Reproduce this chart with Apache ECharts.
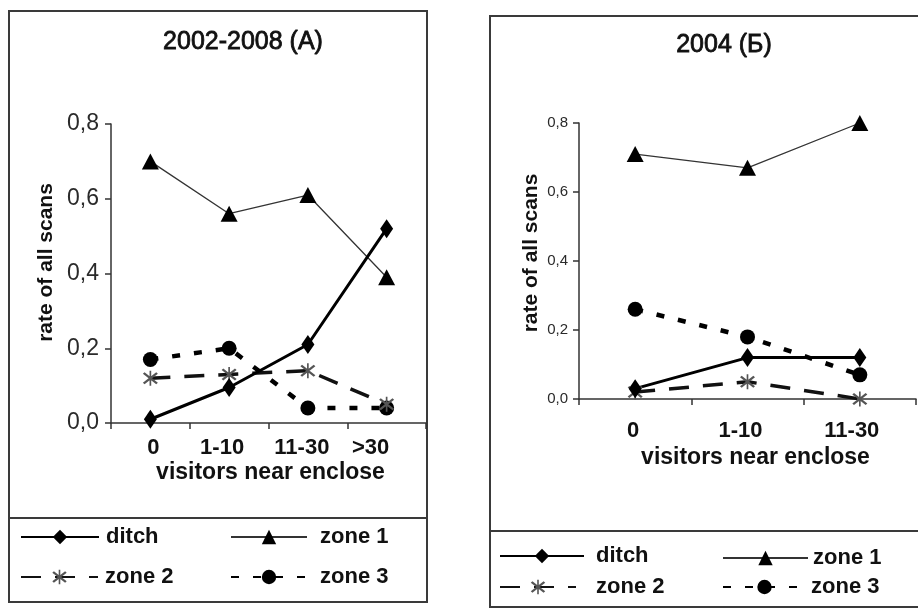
<!DOCTYPE html>
<html>
<head>
<meta charset="utf-8">
<script src="https://cdn.jsdelivr.net/npm/echarts@6/dist/echarts.min.js"></script>
<style>
  html, body { margin: 0; padding: 0; background: #fff; }
  #chart { width: 918px; height: 610px; }
</style>
</head>
<body>
<div id="chart"></div>
<script>
// Panel A: 2002-2008, panel B: 2004
const categoriesA = ['0', '1-10', '11-30', '>30'];
const categoriesB = ['0', '1-10', '11-30'];

const ditchA = [0.01, 0.095, 0.21, 0.52];
const zone1A = [0.70, 0.56, 0.61, 0.39];
const zone2A = [0.12, 0.13, 0.14, 0.05];
const zone3A = [0.17, 0.20, 0.04, 0.04];

const ditchB = [0.03, 0.12, 0.12];
const zone1B = [0.71, 0.67, 0.80];
const zone2B = [0.02, 0.05, 0.00];
const zone3B = [0.26, 0.18, 0.07];

const yMin = 0, yMax = 0.8, yStep = 0.2;

const FONT = "'Liberation Sans', Arial, sans-serif";
const ASTERISK = 'path://M9 0L11 0L11 20L9 20Z M1 4L3 2L19 16L17 18Z M17 2L19 4L3 18L1 16Z';

const styles = {
  'ditch':  { symbol: 'diamond', symbolSize: [13, 19], line: { color: '#000', width: 3 }, fill: '#000' },
  'zone 1': { symbol: 'triangle', symbolSize: [17, 16], line: { color: '#333', width: 1.3 }, fill: '#000' },
  'zone 2': { symbol: ASTERISK, symbolSize: 15, line: { color: '#111', width: 3.5, type: [20, 14] }, fill: '#555' },
  'zone 3': { symbol: 'circle', symbolSize: 15, line: { color: '#000', width: 4.5, type: [8, 14] }, fill: '#000' }
};

function makeSeries(name, data, axisIndex) {
  const s = styles[name];
  return {
    type: 'line',
    name: name,
    xAxisIndex: axisIndex,
    yAxisIndex: axisIndex,
    data: data,
    symbol: s.symbol,
    symbolSize: s.symbolSize,
    showAllSymbol: true,
    lineStyle: Object.assign({}, s.line),
    itemStyle: { color: s.fill },
    emphasis: { disabled: true },
    animation: false
  };
}

const commaFmt = v => v.toFixed(1).replace('.', ',');

function yAxisFor(gridIndex, labelSize, margin, nameGap, namePad) {
  return {
    type: 'value', gridIndex: gridIndex,
    min: yMin, max: yMax, interval: yStep,
    splitLine: { show: false },
    axisLine: { show: true, lineStyle: { color: '#333', width: 1.5 } },
    axisTick: { show: true, length: 6, lineStyle: { color: '#333', width: 1.5 } },
    axisLabel: { formatter: commaFmt, fontFamily: FONT, fontSize: labelSize, color: '#2a2a2a', margin: margin },
    name: 'rate of all scans', nameLocation: 'middle', nameGap: nameGap,
    nameTextStyle: { fontFamily: FONT, fontSize: 21, fontWeight: 'bold', color: '#111', padding: namePad }
  };
}

// Per-label nudges of the category labels (right padding shifts a centred label left)
function xAxisFor(gridIndex, cats, pads, margin, nameGap, namePad) {
  const rich = {};
  pads.forEach((p, i) => {
    rich['c' + i] = { fontFamily: FONT, fontSize: 22, fontWeight: 'bold', color: '#111', padding: p };
  });
  return {
    type: 'category', gridIndex: gridIndex, data: cats,
    boundaryGap: true,
    axisLine: { show: true, onZero: false, lineStyle: { color: '#333', width: 1.5 } },
    axisTick: { show: true, length: 6, lineStyle: { color: '#333', width: 1.5 } },
    axisLabel: {
      interval: 0, hideOverlap: false,
      fontFamily: FONT, fontSize: 22, fontWeight: 'bold', color: '#111', margin: margin,
      formatter: (value, index) => '{c' + index + '|' + value + '}',
      rich: rich
    },
    name: 'visitors near enclose', nameLocation: 'middle', nameGap: nameGap,
    nameTextStyle: { fontFamily: FONT, fontSize: 23, fontWeight: 'bold', color: '#111', padding: namePad }
  };
}

function legendItem(name, left, top, width, textPadLeft) {
  return {
    data: [name], left: left, top: top, orient: 'horizontal',
    itemWidth: width, itemHeight: 18, selectedMode: false, padding: 0,
    textStyle: { fontFamily: FONT, fontSize: 22, fontWeight: 'bold', color: '#111', padding: [0, 0, 0, textPadLeft] }
  };
}

const frameStyle = { fill: 'none', stroke: '#3a3a3a', lineWidth: 2 };
const titleStyle = {
  fontFamily: FONT, fontSize: 25, fontWeight: 'normal', color: '#111',
  textBorderColor: '#111', textBorderWidth: 0.8
};

const option = {
  backgroundColor: '#fff',
  animation: false,
  title: [
    { text: '2002-2008 (A)', left: 238, top: 25, textAlign: 'center', textStyle: titleStyle },
    { text: '2004 (Б)', left: 719, top: 28, textAlign: 'center', textStyle: titleStyle }
  ],
  grid: [
    { left: 111, top: 124, width: 315, height: 299 },
    { left: 579, top: 123, width: 337, height: 276 }
  ],
  xAxis: [
    xAxisFor(0, categoriesA, [[0, 0, 0, 6], [0, 14, 0, 0], [0, 12, 0, 0], [0, 32, 0, 0]], 14, 38, [0, 0, 0, 4]),
    xAxisFor(1, categoriesB, [[0, 4, 0, 0], [0, 14, 0, 0], [0, 16, 0, 0]], 21, 47, [0, 0, 0, 16])
  ],
  yAxis: [
    yAxisFor(0, 23, 12, 54, [0, 0, 0, 22]),
    yAxisFor(1, 15, 11, 37, [0, 0, 0, 16])
  ],
  legend: [
    legendItem('ditch', 20, 526, 78, 2),
    legendItem('zone 1', 230, 526, 76, 8),
    legendItem('zone 2', 20, 566, 77, 2),
    legendItem('zone 3', 230, 566, 76, 8),
    legendItem('ditch', 499, 545, 84, 7),
    legendItem('zone 1', 722, 547, 85, 0),
    legendItem('zone 2', 499, 576, 76, 15),
    legendItem('zone 3', 722, 576, 83, 0)
  ],
  graphic: [
    { type: 'rect', shape: { x: 9, y: 11, width: 418, height: 591 }, style: frameStyle, silent: true },
    { type: 'line', shape: { x1: 9, y1: 518, x2: 427, y2: 518 }, style: frameStyle, silent: true },
    { type: 'rect', shape: { x: 490, y: 16, width: 440, height: 591 }, style: frameStyle, silent: true },
    { type: 'line', shape: { x1: 490, y1: 531, x2: 930, y2: 531 }, style: frameStyle, silent: true }
  ],
  series: [
    makeSeries('zone 1', zone1A, 0),
    makeSeries('zone 3', zone3A, 0),
    makeSeries('zone 2', zone2A, 0),
    makeSeries('ditch', ditchA, 0),
    makeSeries('zone 1', zone1B, 1),
    makeSeries('zone 3', zone3B, 1),
    makeSeries('zone 2', zone2B, 1),
    makeSeries('ditch', ditchB, 1)
  ]
};

const chart = echarts.init(document.getElementById('chart'), null, { renderer: 'canvas' });
chart.setOption(option);
</script>
</body>
</html>
